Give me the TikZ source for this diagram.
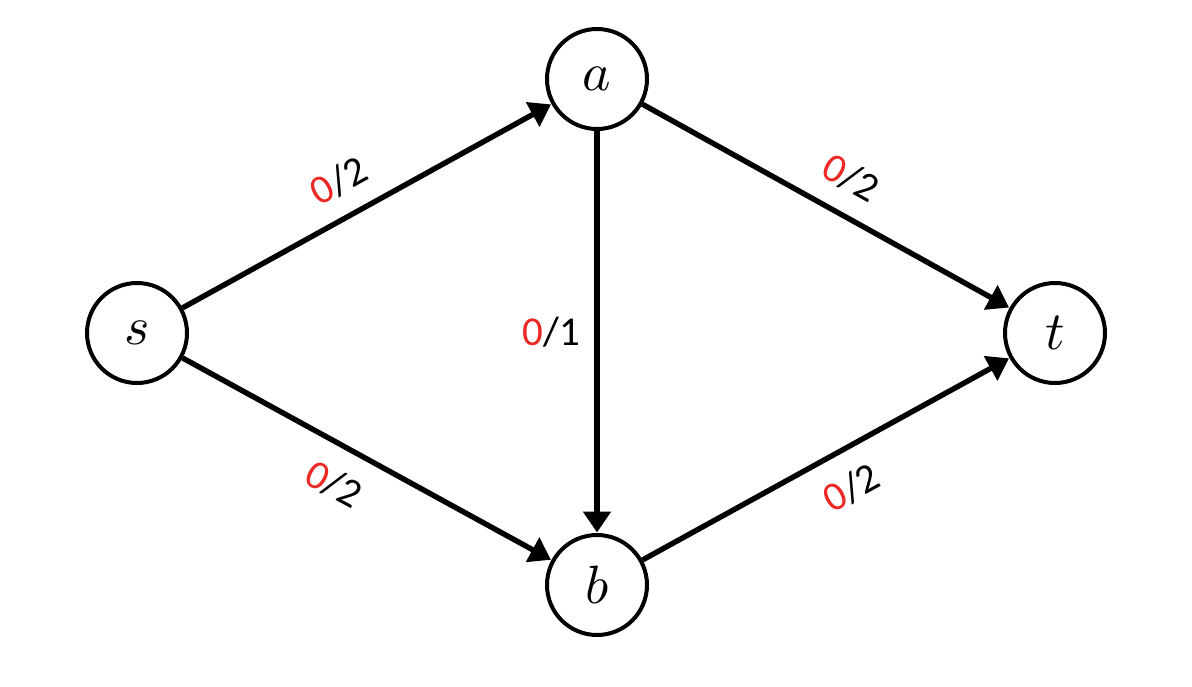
\documentclass[tikz,border=0pt]{standalone}
\usepackage{fontspec}
\usepackage{unicode-math}
\newfontfamily\lblfont{Carlito}
\usetikzlibrary{arrows.meta}
\definecolor{flowred}{RGB}{235,40,35}
\tikzset{
  vtx/.style={circle, draw=black, line width=4pt, minimum size=100pt, inner sep=0pt, font=\fontsize{54}{60}\selectfont},
  edge/.style={line width=5.4pt, -{Triangle[length=21pt,width=27pt]}, shorten >=0.5pt},
  lbl/.style={font=\lblfont\fontsize{41}{46}\selectfont, inner sep=2pt}
}
\begin{document}
\begin{tikzpicture}[x=1pt,y=-1pt]
\useasboundingbox (0,0) rectangle (1192,686);
\node[vtx] (s) at (137,333) {$s$};
\node[vtx] (a) at (597,79) {$a$};
\node[vtx] (b) at (597,585) {$b$};
\node[vtx] (t) at (1055,333) {$t$};
\draw[edge] (s) -- node[lbl, pos=0.47, sloped, above=16pt] {\textcolor{flowred}{0}/2} (a);
\draw[edge] (a) -- node[lbl, pos=0.52, sloped, above=17pt] {\textcolor{flowred}{0}/2} (t);
\draw[edge] (s) -- node[lbl, pos=0.46, sloped, below=18pt] {\textcolor{flowred}{0}/2} (b);
\draw[edge] (b) -- node[lbl, pos=0.52, sloped, below=18pt] {\textcolor{flowred}{0}/2} (t);
\draw[edge] (a) -- node[lbl, left=12pt] {\textcolor{flowred}{0}/1} (b);
\end{tikzpicture}
\end{document}
